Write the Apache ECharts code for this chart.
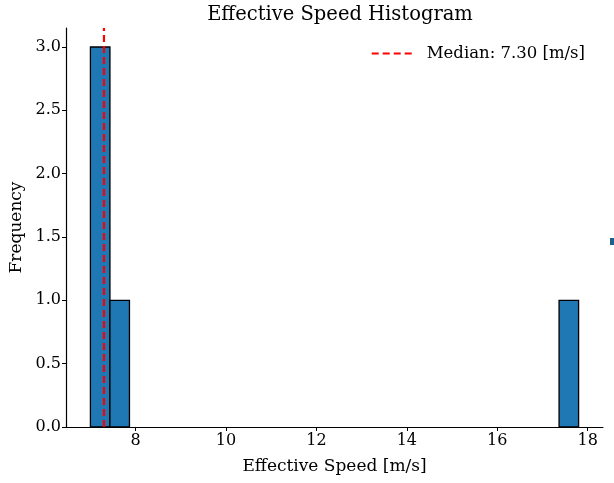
<!DOCTYPE html>
<html>
<head>
<meta charset="utf-8">
<script src="https://cdn.jsdelivr.net/npm/echarts@6/dist/echarts.min.js"></script>
<style>
  html, body { margin: 0; padding: 0; background: #fff; }
  #chart { width: 614px; height: 483px; }
</style>
</head>
<body>
<div id="chart"></div>
<script>
// Histogram bins that hold samples (left edge, right edge, count)
const binStart = [7.000, 7.432, 17.368];
const binEnd   = [7.432, 7.864, 17.800];
const counts   = [3, 1, 1];

// Median of the effective speed samples
const medianSpeed = 7.30;

// Axis ticks
const xTicks = [8, 10, 12, 14, 16, 18];
const yTicks = [0, 0.5, 1.0, 1.5, 2.0, 2.5, 3.0];

const FONT = '"DejaVu Serif", "Liberation Serif", serif';
const INK = '#000';

const chart = echarts.init(document.getElementById('chart'), null, { renderer: 'canvas' });

const bars = binStart.map((s, i) => [s, binEnd[i], counts[i]]);

chart.setOption({
  animation: false,
  backgroundColor: '#fff',
  title: {
    text: 'Effective Speed Histogram',
    left: 335, top: 0, textAlign: 'center',
    textStyle: { fontFamily: FONT, fontSize: 19.5, fontWeight: 'normal', color: INK }
  },
  legend: {
    right: 24, top: 40,
    itemWidth: 40, itemHeight: 10, itemGap: 15,
    itemStyle: { color: 'transparent', borderWidth: 0, opacity: 0 },
    textStyle: { fontFamily: FONT, fontSize: 16.5, color: INK, padding: [0, 0, 0, 10] },
    data: [{ name: 'Median: 7.30 [m/s]' }]
  },
  grid: { left: 66, right: 11, top: 28, bottom: 56, containLabel: false, outerBoundsMode: 'none' },
  xAxis: {
    type: 'value', min: 6.46, max: 18.34,
    name: 'Effective Speed [m/s]', nameLocation: 'middle', nameGap: 31,
    nameTextStyle: { fontFamily: FONT, fontSize: 17, color: INK },
    splitLine: { show: false },
    axisLine: { show: true, onZero: false, lineStyle: { color: INK, width: 1.2 } },
    axisTick: { show: true, length: 4, lineStyle: { color: INK, width: 1 }, customValues: xTicks },
    axisLabel: { fontFamily: FONT, fontSize: 16, color: INK, margin: 6, customValues: xTicks }
  },
  yAxis: {
    type: 'value', min: 0, max: 3.15,
    name: 'Frequency', nameLocation: 'middle', nameGap: 40, nameRotate: 90,
    nameTextStyle: { fontFamily: FONT, fontSize: 17, color: INK },
    splitLine: { show: false },
    axisLine: { show: true, lineStyle: { color: INK, width: 1.2 } },
    axisTick: { show: true, length: 4, lineStyle: { color: INK, width: 1 }, customValues: yTicks },
    axisLabel: { fontFamily: FONT, fontSize: 16, color: INK, margin: 5,
                 customValues: yTicks, formatter: v => v.toFixed(1) }
  },
  series: [
    {
      type: 'custom',
      name: 'counts',
      data: bars,
      encode: { x: [0, 1], y: 2 },
      renderItem: function (params, api) {
        const p0 = api.coord([api.value(0), 0]);
        const p1 = api.coord([api.value(1), api.value(2)]);
        return {
          type: 'rect',
          shape: { x: p0[0], y: p1[1], width: p1[0] - p0[0], height: p0[1] - p1[1] },
          style: { fill: '#1f77b4', stroke: '#000', lineWidth: 1.3 }
        };
      },
      z: 2
    },
    {
      type: 'line',
      name: 'Median: 7.30 [m/s]',
      data: [[medianSpeed, 0], [medianSpeed, 3.15]],
      showSymbol: false, symbol: 'none',
      lineStyle: { color: '#ff0000', width: 2.2, type: [7, 4] },
      itemStyle: { color: '#ff0000' },
      z: 3
    }
  ],
  graphic: [
    { type: 'rect', left: 610, top: 238, shape: { width: 4, height: 7 }, style: { fill: '#1f5f8b' } }
  ]
});
</script>
</body>
</html>
